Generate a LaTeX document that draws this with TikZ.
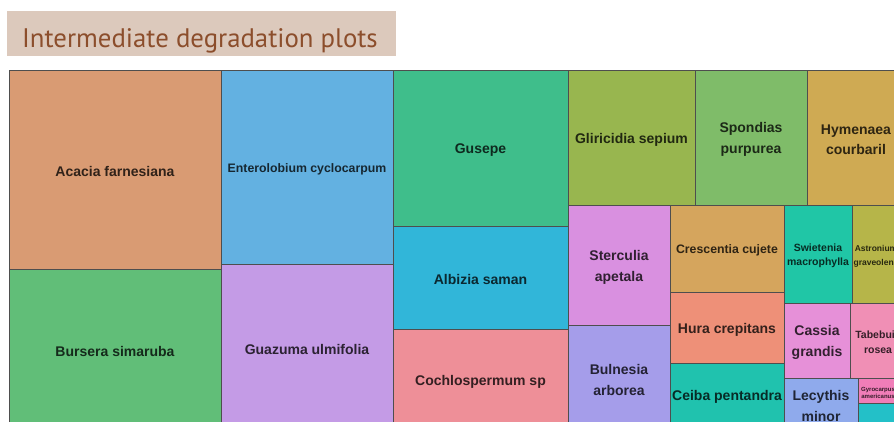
\documentclass[tikz,border=0pt]{standalone}
\usepackage{fontspec}
\setmainfont{Liberation Sans}
\newfontfamily\titlefont{PT Sans}
\definecolor{titlebg}{HTML}{DCC9BC}
\definecolor{titlefg}{HTML}{8C4E2C}
\definecolor{cframe}{HTML}{4E4E4E}
\definecolor{cAcacia}{HTML}{D99B73}
\definecolor{cBursera}{HTML}{61BE78}
\definecolor{cEntero}{HTML}{63B1E1}
\definecolor{cGuazuma}{HTML}{C49BE6}
\definecolor{cGusepe}{HTML}{3FBE8B}
\definecolor{cAlbizia}{HTML}{31B6D9}
\definecolor{cCochlo}{HTML}{EE8F98}
\definecolor{cGliri}{HTML}{98B64F}
\definecolor{cSpondias}{HTML}{7FBC69}
\definecolor{cHymenaea}{HTML}{CFAA53}
\definecolor{cSterculia}{HTML}{D990E0}
\definecolor{cBulnesia}{HTML}{A59DEA}
\definecolor{cCrescentia}{HTML}{D5A55D}
\definecolor{cHura}{HTML}{EE9078}
\definecolor{cCeiba}{HTML}{20C2AE}
\definecolor{cSwietenia}{HTML}{20C6A6}
\definecolor{cAstronium}{HTML}{B6B549}
\definecolor{cCassia}{HTML}{E690D8}
\definecolor{cTabebuia}{HTML}{F08FB5}
\definecolor{cLecythis}{HTML}{8FAAEC}
\definecolor{cGyro}{HTML}{F07DB8}
\definecolor{cLast}{HTML}{23C0C8}
\tikzset{
  cellframe/.style={draw=cframe, line width=0.9pt},
  celltext/.style={inner sep=0pt, align=center, yshift=-2pt},
}
% #1 name, #2 x1, #3 y1, #4 x2, #5 y2, #6 colour, #7 font size, #8 line skip, #9 text
\newcommand\tmcell[9]{%
  \filldraw[cellframe, fill=#6] (#2,#3) rectangle (#4,#5);
  \node[celltext, text=#6!22!black, font=\bfseries\fontsize{#7}{#8}\selectfont]
    (#1) at ({(#2+#4)/2},{(#3+#5)/2}) {#9};}
\begin{document}
\begin{tikzpicture}[x=1pt, y=-1pt]
\useasboundingbox (0,0) rectangle (894,421);
\fill[white] (0,0) rectangle (894,421);
% title banner
\fill[titlebg] (7,11) rectangle (396,56);
\node[anchor=base west, inner sep=0pt, text=titlefg,
      font=\titlefont\fontsize{26.8}{30}\selectfont] (title) at (22,47)
  {Intermediate degradation plots};
% treemap
\begin{scope}
\clip (0,0) rectangle (894,421);
\tmcell{acacia}{9}{70}{221}{269}{cAcacia}{14}{21}{Acacia farnesiana}
\tmcell{bursera}{9}{269}{221}{430}{cBursera}{14}{21}{Bursera simaruba}
\tmcell{entero}{221}{70}{393}{264}{cEntero}{12.3}{18}{Enterolobium cyclocarpum}
\tmcell{guazuma}{221}{264}{393}{430}{cGuazuma}{14}{21}{Guazuma ulmifolia}
\tmcell{gusepe}{393}{70}{568}{226}{cGusepe}{14}{21}{Gusepe}
\tmcell{albizia}{393}{226}{568}{329}{cAlbizia}{14}{21}{Albizia saman}
\tmcell{cochlo}{393}{329}{568}{430}{cCochlo}{14}{21}{Cochlospermum sp}
\tmcell{gliri}{568}{70}{695}{205}{cGliri}{14}{21}{Gliricidia sepium}
\tmcell{spondias}{695}{70}{807}{205}{cSpondias}{14}{21}{Spondias\\purpurea}
\tmcell{hymenaea}{807}{70}{905}{205}{cHymenaea}{14}{20}{Hymenaea\\courbaril}
\tmcell{sterculia}{568}{205}{670}{325}{cSterculia}{14}{21}{Sterculia\\apetala}
\tmcell{bulnesia}{568}{325}{670}{430}{cBulnesia}{14}{21}{Bulnesia\\arborea}
\tmcell{crescentia}{670}{205}{784}{292}{cCrescentia}{12.3}{18}{Crescentia cujete}
\tmcell{hura}{670}{292}{784}{363}{cHura}{14}{21}{Hura crepitans}
\tmcell{ceiba}{670}{363}{784}{427}{cCeiba}{14}{21}{Ceiba pentandra}
\tmcell{swietenia}{784}{205}{852}{303}{cSwietenia}{10.5}{14}{Swietenia\\macrophylla}
\tmcell{astronium}{852}{205}{900}{303}{cAstronium}{8.5}{14}{Astronium\\graveolens}
\tmcell{cassia}{784}{303}{850}{378}{cCassia}{14}{21}{Cassia\\grandis}
\tmcell{tabebuia}{850}{303}{906}{378}{cTabebuia}{10.5}{15}{Tabebuia\\rosea}
\tmcell{lecythis}{784}{378}{858}{430}{cLecythis}{14}{21}{Lecythis\\minor}
\tmcell{gyro}{858}{378}{898}{403}{cGyro}{6}{7}{Gyrocarpus\\americanus}
\tmcell{lastcell}{858}{403}{898}{430}{cLast}{5}{7}{}
\end{scope}
\end{tikzpicture}
\end{document}
